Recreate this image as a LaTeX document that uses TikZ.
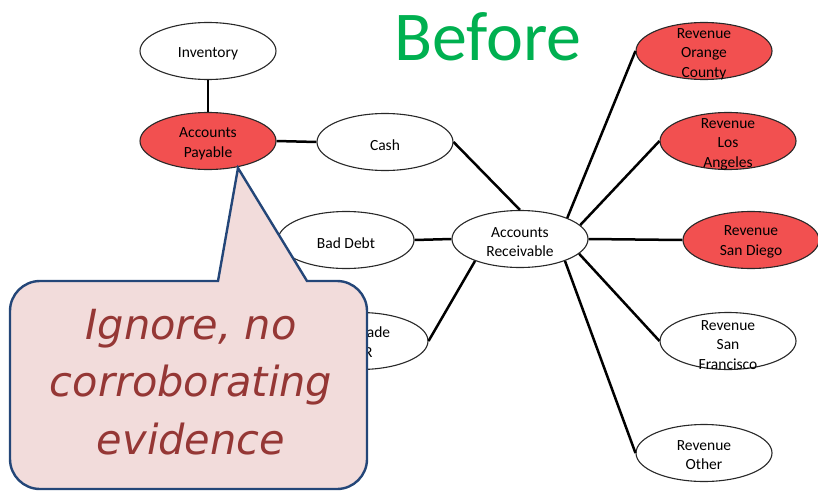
\documentclass[tikz,border=0pt]{standalone}
\usepackage{fontspec}
\setmainfont{Carlito}
\newfontfamily\calloutfont{DejaVu Sans}
\usetikzlibrary{shapes.geometric}
\definecolor{titlegreen}{RGB}{0,176,80}
\definecolor{hotred}{RGB}{242,80,80}
\definecolor{calloutfill}{RGB}{242,220,219}
\definecolor{calloutline}{RGB}{36,70,120}
\definecolor{callouttext}{RGB}{149,55,53}
\definecolor{rimgray}{RGB}{40,40,40}
\tikzset{
  acct/.style={ellipse, draw=rimgray, line width=1.1pt, fill=white,
    minimum width=136pt, minimum height=57pt, inner sep=0pt},
  flagged/.style={acct, fill=hotred},
  lbl/.style={align=center, inner sep=0pt, text=black,
    font=\fontsize{15.5}{19.5}\selectfont},
  edge/.style={line width=2.5pt, black},
}
\begin{document}
\begin{tikzpicture}[x=1pt, y=-1pt]
\useasboundingbox (0,0) rectangle (818,490);

% title
\node[text=titlegreen, font=\fontsize{70}{70}\selectfont, anchor=base] (title) at (488,60) {Before};

% account ellipses
\node[acct]    (inv)   at (208,51)  {};
\node[flagged] (ap)    at (208,141) {};
\node[acct]    (cash)  at (385,142) {};
\node[acct]    (bad)   at (346,240) {};
\node[acct]    (ar)    at (520,239) {};
\node[acct]    (trade) at (360,341) {};
\node[flagged] (oc)    at (704,51)  {};
\node[flagged] (la)    at (728,141) {};
\node[flagged] (sd)    at (751,240) {};
\node[acct]    (sf)    at (728,341) {};
\node[acct]    (oth)   at (704,453) {};

% labels
\node[lbl] (invT)   at (208,54)  {Inventory};
\node[lbl] (apT)    at (208,144) {Accounts\\Payable};
\node[lbl] (cashT)  at (385,145) {Cash};
\node[lbl] (badT)   at (346,243) {Bad Debt};
\node[lbl] (arT)    at (520,242) {Accounts\\Receivable};
\node[lbl, align=left, anchor=west] (tradeT) at (355,342) {Trade\\AR};
\node[lbl] (ocT)    at (704,54)  {Revenue\\Orange\\County};
\node[lbl] (laT)    at (728,144) {Revenue\\Los\\Angeles};
\node[lbl] (sdT)    at (751,242) {Revenue\\San Diego};
\node[lbl] (sfT)    at (728,345) {Revenue\\San\\Francisco};
\node[lbl] (othT)   at (704,455) {Revenue\\Other};

% links
\draw[edge] (inv.south) -- (ap.north);
\draw[edge] (ap.east) -- (cash.west);
\draw[edge] (cash.east) -- (ar.north);
\draw[edge] (bad.east) -- (ar.west);
\draw[edge] (trade.east) -- (ar.206);
\draw[edge] (ar.24) -- (oc.west);
\draw[edge] (ar.13) -- (la.west);
\draw[edge] (ar.east) -- (sd.west);
\draw[edge] (ar.-14) -- (sf.west);
\draw[edge] (ar.-26) -- (oth.west);

% callout bubble pointing at Accounts Payable
\coordinate (tip) at (238,168);
\draw[line width=2.4pt, draw=calloutline, fill=calloutfill, line join=miter]
  (150,281) [rounded corners=30pt] -- (10,281) -- (10,489) -- (367,489) -- (367,281)
  [sharp corners] -- (307,281) -- (tip) -- (218,281) -- cycle;
\node[align=center, text=callouttext, inner sep=0pt,
  font=\calloutfont\itshape\fontsize{41.5}{57.5}\selectfont] (note) at (191,382)
  {Ignore, no\\corroborating\\evidence};
\end{tikzpicture}
\end{document}
